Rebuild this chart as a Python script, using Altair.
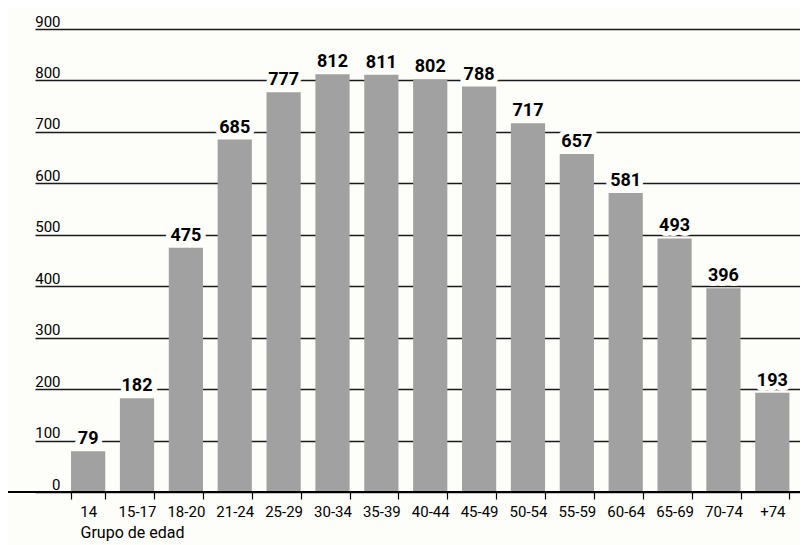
import altair as alt
import pandas as pd

grupos = ["14", "15-17", "18-20", "21-24", "25-29", "30-34", "35-39", "40-44",
          "45-49", "50-54", "55-59", "60-64", "65-69", "70-74", "+74"]
valores = [79, 182, 475, 685, 777, 812, 811, 802, 788, 717, 657, 581, 493, 396, 193]
y_ticks = [0, 100, 200, 300, 400, 500, 600, 700, 800, 900]
x_title = "Grupo de edad"

df = pd.DataFrame({"grupo": grupos, "valor": valores})

BG = "#fdfdfa"
FONT = "Roboto"

x_enc = alt.X(
    "grupo:N", sort=grupos,
    scale=alt.Scale(paddingInner=0.3, paddingOuter=0.477, align=0.773),
    axis=alt.Axis(
        title=x_title, labelAngle=0, domain=False, ticks=True, tickSize=7,
        tickColor="black", tickWidth=1.2, tickBand="extent", grid=False,
        labelFont=FONT, labelFontSize=15, labelColor="black", labelPadding=5,
        titleFont=FONT, titleFontSize=16, titleFontWeight="normal",
        titleColor="black", titleAnchor="start", titleAlign="left",
        titleX=45, titleY=45, titleBaseline="alphabetic",
    ),
)
y_enc = alt.Y(
    "valor:Q",
    scale=alt.Scale(domain=[0, 900], nice=False),
    axis=alt.Axis(
        values=y_ticks, title=None, domain=False, ticks=False, grid=True,
        gridColor="#1a1a1a", gridWidth=1.4, labelAlign="right",
        labelBaseline="alphabetic", labelPadding=-25, labelOffset=-3,
        labelFont=FONT, labelFontSize=15, labelFontWeight=400,
        labelColor="black",
    ),
)

base = alt.Chart(df).encode(x=x_enc, y=y_enc)

bars = base.mark_bar(color="#a1a1a1")

baseline = alt.Chart(pd.DataFrame({"valor": [0]})).mark_rule(
    color="black", strokeWidth=2
).encode(y="valor:Q", x=alt.value(-28), x2=alt.value(765))

halo = base.mark_text(
    font=FONT, fontSize=18, fontWeight="bold", baseline="alphabetic", dy=-7,
    stroke=BG, strokeWidth=10, strokeJoin="round", fill=BG,
).encode(text="valor:Q")

labels = base.mark_text(
    font=FONT, fontSize=18, fontWeight="bold", baseline="alphabetic", dy=-7,
    color="black",
).encode(text="valor:Q")

chart = alt.layer(bars, baseline, halo, labels).properties(
    width=765, height=463,
    autosize=alt.AutoSizeParams(type="none"),
    padding={"left": 27, "top": 21, "right": 0, "bottom": 53},
    background=BG,
).configure_view(stroke=None)

chart.save("out.html", embed_options={"renderer": "svg", "actions": False})
